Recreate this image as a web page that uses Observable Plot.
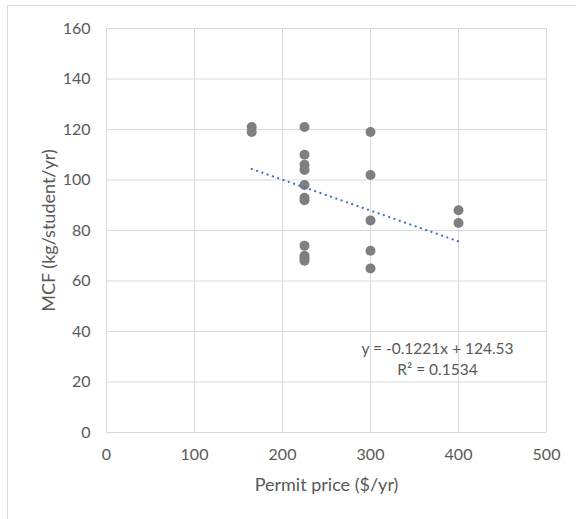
<!DOCTYPE html>
<html>
<head>
<meta charset="utf-8">
<script src="https://cdn.jsdelivr.net/npm/d3@7"></script>
<script src="https://cdn.jsdelivr.net/npm/@observablehq/plot@0.6"></script>
<style>
  html, body { margin: 0; padding: 0; background: #fff; }
  #wrap { position: relative; width: 576px; height: 519px; overflow: hidden; }
  #border { position: absolute; left: 7px; top: 5px; width: 600px; height: 600px; border: 1px solid #d9d9d9; box-sizing: border-box; pointer-events: none; }
</style>
</head>
<body>
<div id="wrap"><div id="border"></div></div>
<script>
// Data
const permitPrice = [165, 165, 225, 225, 225, 225, 225, 225, 225, 225, 225, 225, 225, 300, 300, 300, 300, 300, 400, 400];
const mcf =         [121, 119, 121, 110, 106, 104, 98,  93,  92,  74,  70,  69,  68,  119, 102, 84,  72,  65,  88,  83];
const trendSlope = -0.1221;
const trendIntercept = 124.53;
const rSquared = 0.1534;
const xTicks = [0, 100, 200, 300, 400, 500];
const yTicks = [0, 20, 40, 60, 80, 100, 120, 140, 160];

const points = permitPrice.map((x, i) => ({x, y: mcf[i]}));
const xMin = d3.min(permitPrice), xMax = d3.max(permitPrice);
const trend = [xMin, xMax].map(x => ({x, y: trendSlope * x + trendIntercept}));
const eqText = `y = ${trendSlope}x + ${trendIntercept}\nR² = ${rSquared}`;

const font = "Lato, 'Open Sans', sans-serif";
const textColor = "#595959";
const grid = "#d9d9d9";

const chart = Plot.plot({
  width: 576,
  height: 519,
  marginLeft: 106,
  marginRight: 30,
  marginTop: 28,
  marginBottom: 87,
  style: { fontFamily: font, fontSize: "16px", color: textColor, background: "transparent" },
  x: { domain: [0, 500] },
  y: { domain: [0, 160] },
  marks: [
    Plot.gridX(xTicks, { stroke: grid, strokeOpacity: 1, strokeWidth: 1 }),
    Plot.gridY(yTicks, { stroke: grid, strokeOpacity: 1, strokeWidth: 1 }),
    Plot.axisX(xTicks, { tickSize: 0, tickPadding: 16, fill: textColor, fontSize: 16, label: null }),
    Plot.axisX({ ticks: [], tickSize: 0, fill: textColor, fontSize: 18,
      label: "Permit price ($/yr)", labelAnchor: "center", labelArrow: "none", labelOffset: 58 }),
    Plot.axisY(yTicks, { tickSize: 0, tickPadding: 16, fill: textColor, fontSize: 16, label: null }),
    Plot.axisY({ ticks: [], tickSize: 0, fill: textColor, fontSize: 18,
      label: "MCF (kg/student/yr)", labelAnchor: "center", labelArrow: "none", labelOffset: 64 }),
    Plot.dot(points, { x: "x", y: "y", r: 5, fill: "#7f7f7f", stroke: "none" }),
    Plot.line(trend, { x: "x", y: "y", stroke: "#4472c4", strokeWidth: 2.2, strokeDasharray: "0.1 5.5", strokeLinecap: "round" }),
    Plot.text([eqText], { frameAnchor: "bottom-right", dx: -109, dy: -58, text: d => d, textAnchor: "middle", fill: textColor, fontSize: 15.5, lineHeight: 1.35 })
  ]
});
document.getElementById("wrap").appendChild(chart);
chart.style.position = "absolute";
chart.style.left = "0";
chart.style.top = "0";
</script>
</body>
</html>
